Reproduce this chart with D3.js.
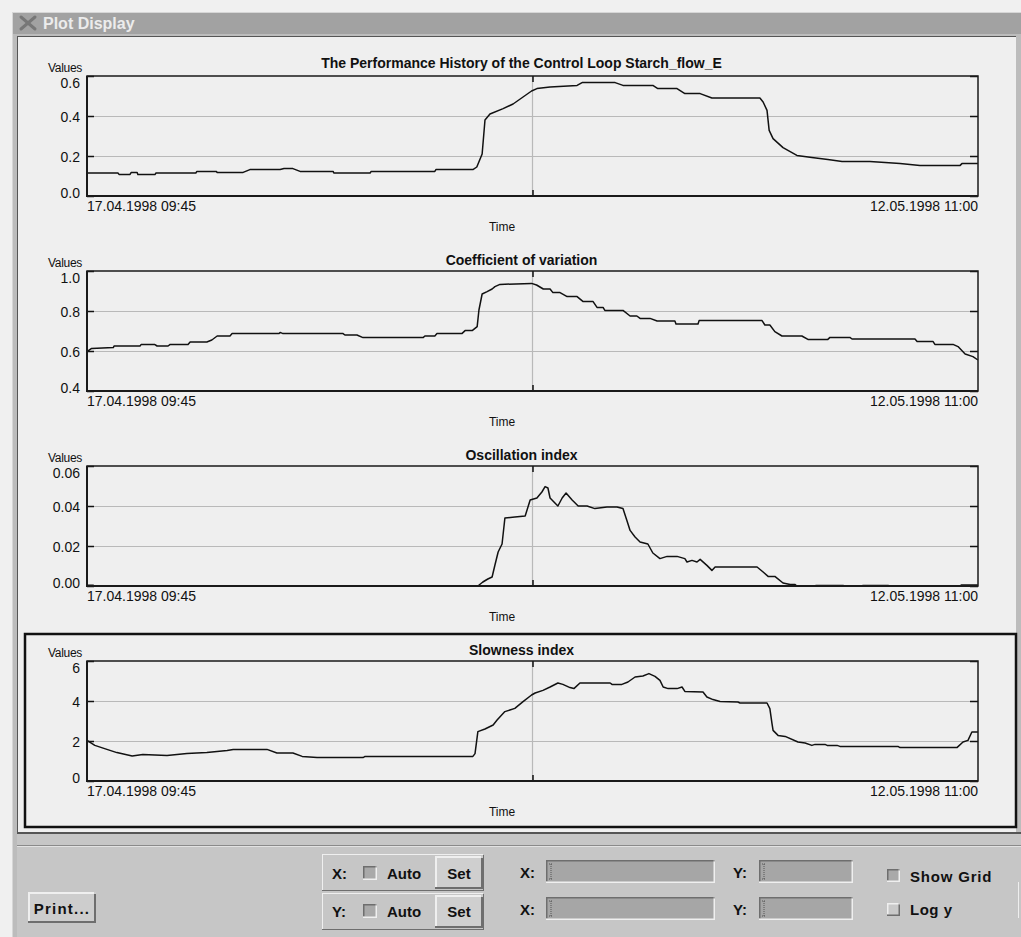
<!DOCTYPE html>
<html><head><meta charset="utf-8">
<script src="https://cdn.jsdelivr.net/npm/d3@7"></script>
<style>
html,body{margin:0;padding:0;background:#f0f0f0;}
svg{display:block;font-family:"Liberation Sans",Arial,Helvetica,sans-serif;}
</style></head><body>
<svg id="c" width="1021" height="937"></svg>
<script>
// ---------- DATA ----------
const windowTitle = "Plot Display";
const startLabel = "17.04.1998 09:45";
const endLabel = "12.05.1998 11:00";
const spanDays = 25.052; // days between the two labels
const chartTitles = [
  "The Performance History of the Control Loop Starch_flow_E",
  "Coefficient of variation",
  "Oscillation index",
  "Slowness index"
];
const yTicks1 = [0, 0.2, 0.4, 0.6];
const yTicks2 = [0.4, 0.6, 0.8, 1.0];
const yTicks3 = [0, 0.02, 0.04, 0.06];
const yTicks4 = [0, 2, 4, 6];
const yFormats = [".1f", ".1f", ".2f", "d"];

// [day offset, value]
const perfHistory = [[0,.115],[0.87,.115],[0.90,.108],[1.21,.108],[1.24,.117],[1.41,.117],[1.43,.107],[1.91,.107],[1.94,.115],[3.06,.115],[3.09,.123],[3.63,.123],[3.66,.118],[4.39,.118],[4.58,.132],[5.43,.132],[5.54,.137],[5.79,.137],[5.99,.123],[6.92,.123],[6.94,.115],[7.96,.115],[7.99,.123],[9.78,.123],[9.81,.132],[10.85,.132],[10.96,.145],[11.11,.21],[11.19,.38],[11.33,.41],[11.70,.437],[11.98,.46],[12.26,.495],[12.50,.525],[12.65,.537],[13.02,.545],[13.78,.553],[13.92,.567],[14.85,.567],[15.07,.553],[15.91,.553],[16.05,.537],[16.59,.537],[16.81,.512],[17.24,.512],[17.57,.49],[18.92,.49],[19.01,.47],[19.12,.428],[19.18,.328],[19.29,.287],[19.57,.242],[19.96,.203],[20.38,.192],[20.83,.182],[21.23,.173],[22.01,.173],[22.44,.168],[22.86,.162],[23.42,.153],[24.55,.153],[24.60,.162],[25.05,.162]];

const coefVariation = [[0,.597],[0.13,.613],[0.74,.617],[0.76,.625],[1.49,.625],[1.52,.632],[1.91,.632],[1.97,.625],[2.28,.625],[2.33,.632],[2.84,.632],[2.90,.645],[3.37,.645],[3.51,.655],[3.66,.675],[4.02,.675],[4.08,.687],[5.40,.687],[5.43,.693],[5.51,.687],[7.20,.687],[7.25,.68],[7.59,.68],[7.76,.667],[9.45,.667],[9.50,.675],[9.78,.675],[9.84,.687],[10.54,.687],[10.63,.702],[10.83,.702],[10.97,.722],[11.02,.805],[11.11,.885],[11.25,.897],[11.39,.91],[11.47,.922],[11.61,.933],[12.50,.938],[12.64,.93],[12.83,.91],[13.02,.91],[13.10,.892],[13.30,.892],[13.50,.872],[13.78,.872],[13.95,.847],[14.23,.847],[14.34,.818],[14.51,.818],[14.56,.803],[15.07,.803],[15.27,.775],[15.46,.775],[15.55,.763],[15.83,.763],[16.03,.75],[16.53,.75],[16.56,.735],[17.18,.735],[17.21,.752],[18.98,.752],[19.06,.73],[19.20,.73],[19.34,.697],[19.54,.675],[20.10,.675],[20.27,.658],[20.83,.658],[20.89,.668],[21.45,.668],[21.51,.66],[23.28,.66],[23.34,.647],[23.79,.647],[23.84,.633],[24.35,.633],[24.49,.622],[24.69,.585],[24.91,.572],[25.05,.555]];

const oscillationIndex = [[0,.0004],[0.17,.0004],[0.2,0],[10.99,0],[11.13,.002],[11.27,.0035],[11.39,.0045],[11.47,.0105],[11.56,.017],[11.67,.021],[11.75,.034],[12.03,.0345],[12.32,.035],[12.46,.043],[12.65,.044],[12.79,.047],[12.88,.0497],[12.96,.049],[13.02,.044],[13.24,.040],[13.36,.044],[13.47,.0465],[13.64,.043],[13.81,.040],[14.06,.040],[14.28,.0387],[14.62,.0395],[14.90,.0395],[15.07,.0387],[15.18,.0328],[15.27,.0278],[15.41,.0245],[15.55,.022],[15.77,.021],[15.91,.0165],[16.11,.0137],[16.31,.0148],[16.59,.0148],[16.81,.0137],[16.87,.012],[17.01,.0128],[17.15,.012],[17.24,.0133],[17.43,.0103],[17.57,.0078],[17.66,.0095],[18.84,.0095],[19.01,.007],[19.15,.0048],[19.34,.0048],[19.57,.0015],[19.77,.0007],[19.91,.0007],[19.96,0],[20.47,0],[20.50,.0003],[21.26,.0003],[21.28,0],[21.79,0],[21.82,.0003],[22.52,.0003],[22.58,0],[24.55,0],[24.58,.0005],[25.05,.0005]];

const slownessIndex = [[0,2.03],[0.22,1.78],[0.56,1.58],[0.84,1.42],[1.27,1.25],[1.57,1.32],[2.25,1.28],[2.81,1.37],[3.37,1.42],[3.94,1.53],[4.11,1.58],[5.06,1.58],[5.34,1.40],[5.79,1.40],[6.05,1.23],[6.47,1.17],[7.76,1.17],[7.82,1.23],[10.85,1.23],[10.91,1.37],[10.99,2.47],[11.19,2.6],[11.42,2.8],[11.53,3.05],[11.75,3.47],[12.03,3.63],[12.26,3.97],[12.50,4.3],[12.60,4.4],[12.82,4.53],[13.02,4.7],[13.24,4.9],[13.38,4.83],[13.58,4.67],[13.69,4.62],[13.86,4.9],[14.71,4.9],[14.76,4.83],[15.04,4.83],[15.21,4.95],[15.41,5.2],[15.63,5.25],[15.80,5.37],[15.97,5.23],[16.11,5.03],[16.20,4.7],[16.34,4.62],[16.59,4.62],[16.73,4.7],[16.81,4.48],[17.32,4.45],[17.43,4.2],[17.60,4.07],[17.80,3.98],[18.30,3.95],[18.36,3.9],[19.12,3.9],[19.20,3.62],[19.26,2.87],[19.29,2.53],[19.43,2.28],[19.63,2.23],[19.99,1.95],[20.19,1.9],[20.38,1.78],[20.47,1.83],[20.75,1.83],[20.81,1.78],[21.09,1.78],[21.17,1.73],[22.80,1.73],[22.86,1.67],[24.46,1.67],[24.63,1.95],[24.77,2.03],[24.88,2.45],[25.05,2.45]];

// ---------- DRAW ----------
const svg = d3.select("#c");
const W = 1021, H = 937;

// window chrome
svg.append("rect").attr("x",0).attr("y",0).attr("width",W).attr("height",H).attr("fill","#f0f0f0");
svg.append("rect").attr("x",12).attr("y",12).attr("width",W-12).attr("height",H-12).attr("fill","#bcbcbc");
svg.append("rect").attr("x",12).attr("y",12).attr("width",W-12).attr("height",22).attr("fill","#a2a2a2");
svg.append("line").attr("x1",12).attr("x2",W).attr("y1",12.5).attr("y2",12.5).attr("stroke","#d6d6d6");
svg.append("line").attr("x1",12.5).attr("x2",12.5).attr("y1",12).attr("y2",H).attr("stroke","#d6d6d6");
// close icon
const ic = svg.append("g").attr("stroke","#777").attr("stroke-width",3).attr("stroke-linecap","round");
ic.append("line").attr("x1",21).attr("y1",17).attr("x2",35).attr("y2",29);
ic.append("line").attr("x1",35).attr("y1",17).attr("x2",21).attr("y2",29);
svg.append("text").attr("x",43).attr("y",29).attr("font-size",16).attr("font-weight","bold")
  .attr("fill","#ececec").text(windowTitle);

// plot panel
svg.append("rect").attr("x",17).attr("y",36).attr("width",999).attr("height",796).attr("fill","#efefef");
svg.append("line").attr("x1",17.5).attr("x2",17.5).attr("y1",36).attr("y2",832).attr("stroke","#555");
svg.append("line").attr("x1",17).attr("x2",1016).attr("y1",36.5).attr("y2",36.5).attr("stroke","#555");

// control area
svg.append("rect").attr("x",17).attr("y",832).attr("width",W-17).attr("height",H-832).attr("fill","#c6c6c6");
svg.append("line").attr("x1",17).attr("x2",W).attr("y1",833).attr("y2",833).attr("stroke","#555").attr("stroke-width",2);
svg.append("line").attr("x1",17).attr("x2",W).attr("y1",845.5).attr("y2",845.5).attr("stroke","#8a8a8a");
svg.append("line").attr("x1",17).attr("x2",W).attr("y1",846.5).attr("y2",846.5).attr("stroke","#e2e2e2");

// ---------- charts ----------
const left = 87, right = 978;
const charts = [
  {title: chartTitles[0], data: perfHistory, ticks: yTicks1, fmt: yFormats[0], top: 76, titleDy: -13},
  {title: chartTitles[1], data: coefVariation, ticks: yTicks2, fmt: yFormats[1], top: 271, titleDy: -11},
  {title: chartTitles[2], data: oscillationIndex, ticks: yTicks3, fmt: yFormats[2], top: 466, titleDy: -11},
  {title: chartTitles[3], data: slownessIndex, ticks: yTicks4, fmt: yFormats[3], top: 661, titleDy: -11}
];
const ph = 120;
const x = d3.scaleLinear().domain([0, spanDays]).range([left, right]);
const xMid = spanDays / 2;

charts.forEach(c => {
  const top = c.top, bottom = top + ph;
  const y = d3.scaleLinear().domain(d3.extent(c.ticks)).range([bottom, top]);
  const g = svg.append("g");

  // grid
  g.selectAll(".hg").data(c.ticks.slice(1, -1)).join("line")
    .attr("x1", left).attr("x2", right)
    .attr("y1", d => Math.round(y(d)) + 0.5).attr("y2", d => Math.round(y(d)) + 0.5)
    .attr("stroke", "#b9b9b9").attr("stroke-width", 1.2);
  g.append("line").attr("x1", x(xMid)).attr("x2", x(xMid)).attr("y1", top).attr("y2", bottom)
    .attr("stroke", "#b9b9b9").attr("stroke-width", 1.2);

  // data line
  g.append("path").datum(c.data)
    .attr("fill", "none").attr("stroke", "#111").attr("stroke-width", 1.5)
    .attr("stroke-linejoin", "round")
    .attr("d", d3.line().x(d => x(d[0])).y(d => y(d[1])));

  // axes
  const fmt = d3.format(c.fmt);
  const yl = g.append("g").attr("transform", `translate(${left},0)`)
    .call(d3.axisLeft(y).tickValues(c.ticks).tickSizeInner(-7).tickSizeOuter(0).tickPadding(7).tickFormat(fmt));
  yl.select(".domain").remove();
  yl.selectAll("line").attr("stroke", "#111").attr("stroke-width", 1.5);
  yl.selectAll("text").attr("font-size", 14).attr("fill", "#111")
    .attr("font-family", "'Liberation Sans',Arial,sans-serif")
    .attr("dy", null).attr("dominant-baseline", "central")
    .attr("y", d => Math.min(Math.max(y(d), top + 6), bottom - 4) - y(d));

  const yr = g.append("g").attr("transform", `translate(${right},0)`)
    .call(d3.axisRight(y).tickValues(c.ticks).tickSizeInner(-8).tickSizeOuter(0).tickFormat(""));
  yr.select(".domain").remove();
  yr.selectAll("line").attr("stroke", "#111").attr("stroke-width", 1.5);

  const xb = g.append("g").attr("transform", `translate(0,${bottom})`)
    .call(d3.axisBottom(x).tickValues([xMid]).tickSizeInner(-6).tickSizeOuter(0).tickFormat(""));
  xb.select(".domain").remove();
  xb.selectAll("line").attr("stroke", "#111").attr("stroke-width", 1.5);
  const xt = g.append("g").attr("transform", `translate(0,${top})`)
    .call(d3.axisTop(x).tickValues([xMid]).tickSizeInner(-6).tickSizeOuter(0).tickFormat(""));
  xt.select(".domain").remove();
  xt.selectAll("line").attr("stroke", "#111").attr("stroke-width", 1.5);

  // frame
  g.append("rect").attr("x", left).attr("y", top).attr("width", right - left).attr("height", ph)
    .attr("fill", "none").attr("stroke", "#1a1a1a").attr("stroke-width", 1.5);
  g.append("line").attr("x1", left).attr("x2", left).attr("y1", top).attr("y2", bottom + 1)
    .attr("stroke", "#1a1a1a").attr("stroke-width", 2);
  g.append("line").attr("x1", left).attr("x2", right).attr("y1", bottom).attr("y2", bottom)
    .attr("stroke", "#1a1a1a").attr("stroke-width", 2);

  // texts
  g.append("text").attr("x", 521.5).attr("y", top + c.titleDy).attr("text-anchor", "middle")
    .attr("dominant-baseline", "central").attr("font-size", 14).attr("font-weight", "bold")
    .attr("fill", "#111").text(c.title);
  g.append("text").attr("x", 48).attr("y", top - 8.5).attr("dominant-baseline", "central")
    .attr("font-size", 12).attr("fill", "#111").attr("letter-spacing", -0.3).text("Values");
  g.append("text").attr("x", x(0)).attr("y", bottom + 9.5).attr("dominant-baseline", "central")
    .attr("font-size", 14).attr("fill", "#111").text(startLabel);
  g.append("text").attr("x", x(spanDays)).attr("y", bottom + 9.5).attr("text-anchor", "end")
    .attr("dominant-baseline", "central").attr("font-size", 14).attr("fill", "#111").text(endLabel);
  g.append("text").attr("x", 502).attr("y", bottom + 31).attr("text-anchor", "middle")
    .attr("dominant-baseline", "central").attr("font-size", 12).attr("fill", "#111").text("Time");
});

// selected-plot outline
svg.append("rect").attr("x", 25).attr("y", 634).attr("width", 991).attr("height", 193)
  .attr("fill", "none").attr("stroke", "#111").attr("stroke-width", 2.5);

// ---------- controls ----------
function bevel(x0, y0, w, h, fill, raised, bw) {
  bw = bw || 2;
  const lt = raised ? "#efefef" : "#6e6e6e", dk = raised ? "#6e6e6e" : "#efefef";
  const gg = svg.append("g");
  gg.append("rect").attr("x", x0).attr("y", y0).attr("width", w).attr("height", h).attr("fill", fill);
  gg.append("path").attr("d", `M${x0},${y0+h} V${y0} H${x0+w} h${-bw} v${bw} H${x0+bw} V${y0+h-bw} h${-bw}Z`).attr("fill", lt);
  gg.append("path").attr("d", `M${x0+w},${y0} V${y0+h} H${x0} v${-bw} H${x0+w-bw} V${y0+bw} h${bw}Z`).attr("fill", dk);
  return gg;
}
function label(txt, x0, y0, anchor, ls) {
  svg.append("text").attr("x", x0).attr("y", y0).attr("dominant-baseline", "central")
    .attr("text-anchor", anchor || "start").attr("font-size", 15).attr("font-weight", "bold")
    .attr("letter-spacing", ls || 0).attr("fill", "#111").text(txt);
}

// Print button
bevel(28, 892, 68, 31, "#cdcdcd", true, 2);
label("Print...", 62, 908, "middle", 1.2);

// X/Y Auto Set groups
[[854, 873, "X:"], [893, 911, "Y:"]].forEach(([by, cy, t]) => {
  bevel(322, by, 162, 37, "#c6c6c6", true, 1);
  label(t, 332, cy);
  bevel(363, cy - 7, 14, 14, "#a9a9a9", false, 1.5);
  label("Auto", 387, cy);
  bevel(435, by + 2, 48, 33, "#cfcfcf", true, 2);
  label("Set", 459, cy, "middle");
});

// coordinate fields
[[860, 872], [897, 909]].forEach(([fy, cy]) => {
  label("X:", 520, cy);
  bevel(546, fy, 169, 23, "#a6a6a6", false, 1.5);
  label("Y:", 733, cy);
  bevel(759, fy, 94, 23, "#a6a6a6", false, 1.5);
  [549, 762].forEach(cx => {
    svg.append("path").attr("d", `M${cx},${fy+4} h4 M${cx+2},${fy+4} V${fy+19} M${cx},${fy+19} h4`)
      .attr("stroke", "#555").attr("stroke-width", 1).attr("stroke-dasharray", "1,1").attr("fill", "none");
  });
});

// Show Grid / Log y
bevel(887, 869, 13, 13, "#a9a9a9", false, 1.5);
label("Show Grid", 910, 876, "start", 0.8);
bevel(887, 903, 13, 13, "#c9c9c9", true, 1.5);
label("Log y", 910, 909, "start", 0.5);
svg.append("line").attr("x1", 1018.5).attr("x2", 1018.5).attr("y1", 882).attr("y2", 918).attr("stroke", "#eee");
</script>
</body></html>
